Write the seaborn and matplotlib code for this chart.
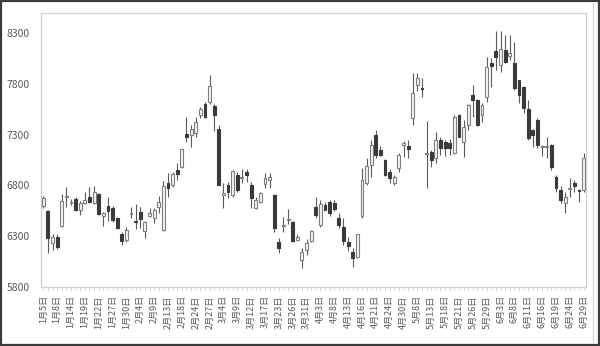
import numpy as np
import pandas as pd
import matplotlib
matplotlib.use("Agg")
import matplotlib.pyplot as plt
import seaborn as sns
from matplotlib.lines import Line2D

# ---- data -------------------------------------------------------------
dates = [
    "1/5", "1/6", "1/7", "1/8", "1/9", "1/13", "1/14", "1/15", "1/16", "1/19",
    "1/20", "1/21", "1/22", "1/23", "1/26", "1/27", "1/28", "1/29", "1/30", "2/2",
    "2/3", "2/4", "2/5", "2/6", "2/9", "2/10", "2/12", "2/13", "2/16", "2/17",
    "2/18", "2/19", "2/23", "2/24", "2/25", "2/26", "2/27", "3/2", "3/3", "3/4",
    "3/5", "3/6", "3/9", "3/10", "3/11", "3/12", "3/13", "3/16", "3/17", "3/18",
    "3/19", "3/23", "3/24", "3/25", "3/26", "3/27", "3/30", "3/31", "4/1", "4/2",
    "4/3", "4/6", "4/7", "4/8", "4/9", "4/10", "4/13", "4/14", "4/15", "4/16",
    "4/17", "4/20", "4/21", "4/22", "4/23", "4/24", "4/27", "4/28", "4/30", "5/1",
    "5/7", "5/8", "5/11", "5/12", "5/13", "5/14", "5/15", "5/18", "5/19", "5/20",
    "5/21", "5/22", "5/25", "5/26", "5/27", "5/28", "5/29", "6/1", "6/2", "6/3",
    "6/4", "6/5", "6/8", "6/9", "6/10", "6/11", "6/12", "6/15", "6/16", "6/17",
    "6/18", "6/19", "6/22", "6/23", "6/24", "6/25", "6/26", "6/29",
]
open_ = [
    6600, 6550, 6230, 6290, 6400, 6685, 6630, 6670, 6560, 6630,
    6690, 6625, 6720, 6500, 6600, 6580, 6480, 6320, 6265, 6520,
    6450, 6540, 6350, 6495, 6480, 6590, 6360, 6825, 6800, 6950,
    6980, 7310, 7300, 7320, 7495, 7605, 7625, 7585, 7360, 6710,
    6800, 6705, 6900, 6870, 6935, 6800, 6580, 6640, 6815, 6855,
    6710, 6245, 6400, 6460, 6440, 6265, 6065, 6165, 6250, 6590,
    6410, 6605, 6640, 6630, 6475, 6390, 6245, 6140, 6095, 6495,
    6820, 7000, 7295, 7145, 7050, 6935, 6825, 6970, 7200, 7190,
    7460, 7790, 7760, 7110, 7130, 7065, 7245, 7230, 7220, 7115,
    7490, 7230, 7395, 7690, 7640, 7495, 7675, 8000, 8120, 7985,
    8130, 8075, 8000, 7835, 7770, 7555, 7345, 7440, 7180, 7180,
    7195, 6885, 6755, 6625, 6765, 6820, 6750, 6755,
]
high = [
    6700, 6560, 6320, 6320, 6720, 6780, 6670, 6690, 6650, 6740,
    6780, 6790, 6730, 6540, 6690, 6600, 6485, 6345, 6395, 6590,
    6620, 6590, 6450, 6580, 6580, 6700, 6840, 6920, 6930, 7020,
    7160, 7470, 7395, 7475, 7575, 7620, 7885, 7600, 7395, 6820,
    6835, 6950, 6930, 6965, 6965, 6835, 6690, 6735, 6920, 6925,
    6720, 6280, 6485, 6565, 6450, 6320, 6180, 6270, 6360, 6690,
    6655, 6640, 6655, 6660, 6525, 6475, 6295, 6180, 6325, 6970,
    7065, 7250, 7345, 7185, 7060, 6965, 6900, 7115, 7235, 7250,
    7905, 7905, 7855, 7430, 7150, 7330, 7280, 7245, 7260, 7490,
    7500, 7445, 7600, 7790, 7650, 7610, 8065, 8050, 8315, 8315,
    8280, 8280, 8215, 7840, 7775, 7640, 7360, 7460, 7200, 7280,
    7210, 6900, 6790, 6740, 6870, 6850, 6760, 7115,
]
low = [
    6580, 6130, 6165, 6170, 6395, 6590, 6610, 6550, 6510, 6620,
    6630, 6620, 6510, 6400, 6445, 6440, 6375, 6215, 6245, 6480,
    6375, 6380, 6280, 6490, 6430, 6530, 6355, 6690, 6780, 6855,
    6975, 7230, 7180, 7280, 7460, 7460, 7605, 7340, 6800, 6575,
    6675, 6690, 6740, 6820, 6835, 6575, 6565, 6630, 6770, 6770,
    6345, 6130, 6345, 6425, 6245, 6250, 5985, 6115, 6245, 6475,
    6395, 6555, 6500, 6545, 6380, 6215, 6150, 6000, 6090, 6480,
    6805, 6885, 7070, 7085, 6890, 6820, 6805, 6935, 7080, 7070,
    7395, 7725, 7675, 6775, 6985, 7020, 7100, 7085, 7095, 7110,
    7275, 7080, 7345, 7475, 7380, 7425, 7625, 7770, 7935, 7920,
    8000, 8035, 7740, 7610, 7510, 7250, 7180, 7165, 7085, 7065,
    6950, 6740, 6625, 6530, 6690, 6740, 6640, 6740,
]
close = [
    6680, 6280, 6295, 6190, 6650, 6695, 6640, 6560, 6630, 6660,
    6640, 6735, 6515, 6530, 6545, 6460, 6385, 6250, 6360, 6530,
    6440, 6465, 6440, 6525, 6555, 6640, 6790, 6770, 6915, 6915,
    7155, 7280, 7360, 7425, 7555, 7470, 7775, 7495, 6805, 6730,
    6740, 6945, 6755, 6885, 6905, 6675, 6655, 6730, 6870, 6880,
    6380, 6185, 6415, 6470, 6250, 6295, 6145, 6235, 6350, 6510,
    6620, 6560, 6525, 6565, 6410, 6250, 6200, 6090, 6320, 6850,
    6990, 7200, 7100, 7100, 6905, 6870, 6885, 7100, 7220, 7155,
    7705, 7855, 7750, 7120, 7050, 7245, 7165, 7165, 7165, 7475,
    7280, 7375, 7590, 7640, 7395, 7590, 7970, 7975, 8065, 8145,
    8015, 8100, 7755, 7690, 7560, 7265, 7295, 7200, 7185, 7185,
    6985, 6770, 6660, 6690, 6775, 6790, 6745, 7065,
]
y_ticks = [5800, 6300, 6800, 7300, 7800, 8300]

# ---- build frame -------------------------------------------------------
df = pd.DataFrame({"date": dates, "open": open_, "high": high,
                   "low": low, "close": close})
df["label"] = df["date"].map(lambda d: "{}月{}日".format(*d.split("/")))
df["pos"] = np.arange(len(df))
df["up"] = df["close"] >= df["open"]
df["bottom"] = df[["open", "close"]].min(axis=1)
df["height"] = (df["close"] - df["open"]).abs().clip(lower=6)

# ---- style --------------------------------------------------------------
sns.set_theme(style="white")
plt.rcParams["font.family"] = ["Noto Sans CJK JP", "DejaVu Sans"]

fig = plt.figure(figsize=(6.0, 3.46), dpi=100)
ax = fig.add_axes([0.0683, 0.1705, 0.9083, 0.7928])

# wicks
ax.vlines(df["pos"], df["low"], df["high"], color="#5a5a5a", lw=0.8, zorder=2)

# bodies
up = df[df["up"]]
dn = df[~df["up"]]
ax.bar(up["pos"], up["height"], bottom=up["bottom"], width=0.62,
       color="#f4f4f4", edgecolor="#7f7f7f", linewidth=0.8, zorder=3)
ax.bar(dn["pos"], dn["height"], bottom=dn["bottom"], width=0.62,
       color="#3a3a3a", edgecolor="#3a3a3a", linewidth=0.8, zorder=3)

# axes
ax.set_xlim(-0.5, len(df) - 0.5)
ax.set_ylim(5800, 8500)
ax.set_yticks(y_ticks)
ax.set_yticklabels([str(v) for v in y_ticks], fontsize=7.5, color="#595959")
major = df["pos"][::3]
ax.set_xticks(major)
ax.set_xticklabels(df["label"][::3], rotation=90, fontsize=6.5,
                   color="#595959")
ax.set_xticks(df["pos"], minor=True)
ax.tick_params(axis="y", length=0, pad=8)
ax.tick_params(axis="x", which="both", length=2, width=0.6,
               color="#d0d0d0", pad=4, bottom=True)
ax.set_xlabel("")
ax.set_ylabel("")
for s in ax.spines.values():
    s.set_color("#d0d0d0")
    s.set_linewidth(0.9)
    s.set_visible(True)

# chart frame
fig.patch.set_facecolor("white")
fig.add_artist(plt.Rectangle((0.001, 0.0015), 0.998, 0.997,
                             transform=fig.transFigure, fill=False,
                             edgecolor="#3c3c3c", linewidth=1.6))
fig.add_artist(Line2D([593 / 600, 593 / 600], [3 / 346, 343 / 346],
                      transform=fig.transFigure, color="#d0d0d0", lw=0.8))

fig.savefig("out.png", dpi=100)
